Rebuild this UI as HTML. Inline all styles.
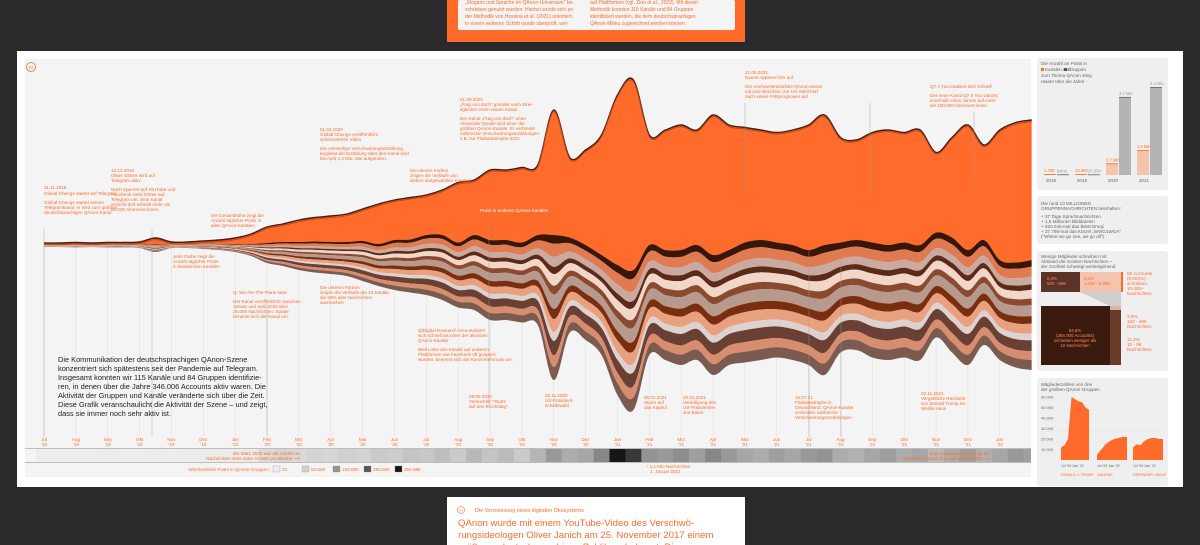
<!DOCTYPE html>
<html><head><meta charset="utf-8">
<style>
html,body{margin:0;padding:0;background:#2a2a2d;}
svg{display:block;font-family:"Liberation Sans",sans-serif;}
.a{fill:#ff6b2b;font-size:4.6px;}
.s{fill:#666;font-size:4.6px;}
.t{fill:#ff6b2b;font-size:5px;}
</style></head>
<body>
<svg id="root" width="1200" height="545" viewBox="0 0 1200 545">
<defs><clipPath id="bandclip"><rect x="25" y="448" width="1006" height="16"/></clipPath></defs>
<rect x="0" y="0" width="1200" height="545" fill="#2a2a2d"/>
<g>
<rect x="447" y="0" width="298" height="42" fill="#ff6b2b"/>
<rect x="458" y="0" width="277" height="30" rx="2" fill="#f4f4f4"/>
<text class="t" x="465" y="4">„Slogans und Sprache im QAnon-Universum" be-</text>
<text class="t" x="465" y="11">schrieben genutzt wurden. Hierbei wurde sich an</text>
<text class="t" x="465" y="18">der Methodik von Hossina et al. (2021) orientiert.</text>
<text class="t" x="465" y="25">In einem weiteren Schritt wurde überprüft, wel-</text>
<text class="t" x="590" y="4">auf Plattformen (vgl. Zinn et al., 2022). Mit dieser</text>
<text class="t" x="590" y="11">Methodik konnten 115 Kanäle und 84 Gruppen</text>
<text class="t" x="590" y="18">identifiziert werden, die dem deutschsprachigen</text>
<text class="t" x="590" y="25">QAnon-Milieu zugerechnet werden können.</text>
</g>
<rect x="17" y="51" width="1166" height="436" fill="#ffffff"/>
<rect x="25" y="59" width="1006" height="418" fill="#f4f4f4"/>
<g id="chart"></g>
<circle cx="31" cy="67" r="4.5" fill="none" stroke="#ff6b2b" stroke-width="0.8"/>
<text x="31" y="68.6" text-anchor="middle" style="font-size:4px;fill:#ff6b2b">02</text>

<g>
<text class="a" x="44" y="189">11.11.2018</text>
<text class="a" x="44" y="195">Global Ghenge startet auf Telegram</text>
<text class="a" x="44" y="204">Global Ghenge startet seinen</text>
<text class="a" x="44" y="209">Telegramkanal, er wird zum größten</text>
<text class="a" x="44" y="214">deutschsprachigen QAnon-Kanal</text>
<text class="a" x="111" y="172">13.12.2019</text>
<text class="a" x="111" y="177">Oliver Sittner wird auf</text>
<text class="a" x="111" y="182">Telegram aktiv</text>
<text class="a" x="111" y="191">Nach Sperren auf YouTube und</text>
<text class="a" x="111" y="196">Facebook zieht Sittner auf</text>
<text class="a" x="111" y="201">Telegram um. Sein Kanal</text>
<text class="a" x="111" y="206">erreicht dort schnell mehr als</text>
<text class="a" x="111" y="211">60.000 Abonnent:innen.</text>
<text class="a" x="211" y="217">Die Gesamthöhe zeigt die</text>
<text class="a" x="211" y="222">Anzahl täglicher Posts in</text>
<text class="a" x="211" y="227">allen QAnon-Kanälen</text>
<text class="a" x="173" y="258">Jede Farbe zeigt die</text>
<text class="a" x="173" y="263">Anzahl täglicher Posts</text>
<text class="a" x="173" y="268">in bestimmten Kanälen</text>
<text class="a" x="233" y="294">Q: We Are The Plane Now</text>
<text class="a" x="233" y="303">Der Kanal veröffentlicht zwischen</text>
<text class="a" x="233" y="308">Januar und April 2020 über</text>
<text class="a" x="233" y="313">25.000 Nachrichten. Später</text>
<text class="a" x="233" y="318">benennt sich der Kanal um.</text>
<text class="a" x="320" y="131">01.04.2020</text>
<text class="a" x="320" y="136">Global Ghenge veröffentlicht</text>
<text class="a" x="320" y="141">sehenswertes Video</text>
<text class="a" x="320" y="150">Die zehnteilige Verschwörungserzählung</text>
<text class="a" x="320" y="155">begleitet die Erzählung über den Kanal wird</text>
<text class="a" x="320" y="160">bis April 3,4 Mio. Mal aufgerufen.</text>
<text class="a" x="410" y="172">Die oberen Farben</text>
<text class="a" x="410" y="177">zeigen die Verläufe von</text>
<text class="a" x="410" y="182">sieben ausgewählten Kanälen</text>
<text class="a" x="460" y="101">01.09.2020</text>
<text class="a" x="460" y="106">„Frag uns doch" gründet nach Strei-</text>
<text class="a" x="460" y="111">tigkeiten einen neuen Kanal</text>
<text class="a" x="460" y="120">Der Kanal „Frag uns doch" unter</text>
<text class="a" x="460" y="125">Alexander Quade wird einer der</text>
<text class="a" x="460" y="130">größten QAnon-Kanäle. Er verbreitet</text>
<text class="a" x="460" y="135">zahlreiche Verschwörungserzählungen</text>
<text class="a" x="460" y="140">z.B. zur Flutkatastrophe 2021</text>
<text x="480" y="212" style="font-size:4.6px;fill:#fff">Posts in anderen QAnon-Kanälen</text>
<text class="a" x="320" y="289">Die unteren Farben</text>
<text class="a" x="320" y="294">zeigen die Verläufe der 15 Kanäle,</text>
<text class="a" x="320" y="299">die 50% aller Nachrichten</text>
<text class="a" x="320" y="304">ausmachen</text>
<text class="a" x="418" y="332">Q/Digital Research Area etabliert</text>
<text class="a" x="418" y="337">sich schnell als einer der aktivsten</text>
<text class="a" x="418" y="342">QAnon-Kanäle</text>
<text class="a" x="418" y="351">Weil Links des Kanals auf anderen</text>
<text class="a" x="418" y="356">Plattformen wie Facebook oft gesperrt</text>
<text class="a" x="418" y="361">wurden, benennt sich der Kanal mehrmals um.</text>
<text class="a" x="745" y="74">21.05.2021</text>
<text class="a" x="745" y="79">Naomi Appleen hört auf</text>
<text class="a" x="745" y="88">Der reichweitenstärkste QAnon-Kanal</text>
<text class="a" x="745" y="93">mit Live-Berichten zur US-Wahl hört</text>
<text class="a" x="745" y="98">nach vielen Fehlprognosen auf</text>
<text class="a" x="930" y="88">Q7 4 You etabliert sich schnell</text>
<text class="a" x="930" y="97">Der neue Kanal Q7 4 You wächst</text>
<text class="a" x="930" y="102">innerhalb eines Jahres auf mehr</text>
<text class="a" x="930" y="107">als 100.000 Abonnent:innen</text>
<text class="a" x="469" y="398">29.08.2020</text>
<text class="a" x="469" y="403">Versuchter "Sturm</text>
<text class="a" x="469" y="408">auf den Reichstag"</text>
<text class="a" x="545" y="397">03.11.2020</text>
<text class="a" x="545" y="402">US-Präsident-</text>
<text class="a" x="545" y="407">schaftswahl</text>
<text class="a" x="644" y="399">06.01.2021</text>
<text class="a" x="644" y="404">Sturm auf</text>
<text class="a" x="644" y="409">das Kapitol</text>
<text class="a" x="683" y="399">20.01.2021</text>
<text class="a" x="683" y="404">Vereidigung des</text>
<text class="a" x="683" y="409">US-Präsidenten</text>
<text class="a" x="683" y="414">Joe Biden</text>
<text class="a" x="795" y="399">15.07.21</text>
<text class="a" x="795" y="404">Flutkatastrophe in</text>
<text class="a" x="795" y="409">Deutschland: QAnon-Kanäle</text>
<text class="a" x="795" y="414">verbreiten zahlreiche</text>
<text class="a" x="795" y="419">Verschwörungserzählungen</text>
<text class="a" x="921" y="395">03.11.2021</text>
<text class="a" x="921" y="400">Vergebliche Rückkehr</text>
<text class="a" x="921" y="405">von Donald Trump ins</text>
<text class="a" x="921" y="410">Weiße Haus</text>
</g>
<g style="font-size:7.4px;fill:#222">
<text x="58" y="362">Die Kommunikation der deutschsprachigen QAnon-Szene</text>
<text x="58" y="371">konzentriert sich spätestens seit der Pandemie auf Telegram.</text>
<text x="58" y="380">Insgesamt konnten wir 115 Kanäle und 84 Gruppen identifizie-</text>
<text x="58" y="389">ren, in denen über die Jahre 346.006 Accounts aktiv waren. Die</text>
<text x="58" y="398">Aktivität der Gruppen und Kanäle veränderte sich über die Zeit.</text>
<text x="58" y="407">Diese Grafik veranschaulicht die Aktivität der Szene – und zeigt,</text>
<text x="58" y="416">dass sie immer noch sehr aktiv ist.</text>
</g>
<g id="xaxis"></g>
<g id="band" clip-path="url(#bandclip)"></g>
<g>
<text class="a" x="300" y="455" text-anchor="end">Bis März 2020 war die Anzahl an</text>
<text class="a" x="300" y="460" text-anchor="end">Nachrichten stets unter 10.000 pro Woche ⟶</text>
<text class="a" x="990" y="455" text-anchor="end">Zum Jahreswechsel steigt die</text>
<text class="a" x="990" y="460" text-anchor="end">Anzahl an Nachrichten auf über 23.000 ⟶</text>
<text class="a" x="646" y="468">↑ 1,1 Mio Nachrichten</text>
<text class="a" x="650" y="473">1. Januar 2021</text>
</g>
<g id="legend"></g>

<g>
<rect x="1037" y="58" width="131" height="132" rx="3" fill="#efefef"/>
<text class="s" x="1041" y="65">Die Anzahl an Posts in</text>
<rect x="1041" y="68" width="3" height="3" fill="#ff6b2b"/><text class="s" x="1045" y="71">Kanälen und</text><rect x="1064" y="68" width="3" height="3" fill="#555"/><text class="s" x="1068" y="71">Gruppen</text>
<text class="s" x="1041" y="77">zum Thema QAnon stieg</text>
<text class="s" x="1041" y="83">rasant über die Jahre</text>
<g id="bars"></g>
<rect x="1037" y="196" width="131" height="48" rx="3" fill="#efefef"/>
<text class="s" x="1041" y="205">Die rund 13 MILLIONEN</text>
<text class="s" x="1041" y="210">GRUPPENNACHRICHTEN beinhalten:</text>
<text class="s" x="1041" y="218">+    37 Tage Sprachnachrichten</text>
<text class="s" x="1041" y="223">+    1,5 Millionen Bilddateien</text>
<text class="s" x="1041" y="228">+    620.040-mal das Biest-Emoji</text>
<text class="s" x="1041" y="233">+    37.795-mal das Kürzel „WWG1WGA"</text>
<text class="s" x="1041" y="238">      ("Where we go one, we go all")</text>
<rect x="1037" y="251" width="131" height="120" rx="3" fill="#efefef"/>
<text class="s" x="1041" y="258">Wenige Mitglieder schreiben mit</text>
<text class="s" x="1041" y="263">Abstand die meisten Nachrichten –</text>
<text class="s" x="1041" y="268">der Großteil schweigt weitestgehend</text>
<rect x="1041" y="272" width="39" height="20" fill="#5a3426"/>
<rect x="1080" y="272" width="41" height="20" fill="#f3c4ae"/>
<rect x="1121" y="272" width="2" height="20" fill="#ff6b2b"/>
<polygon points="1080,292 1121,292 1121,306 1110,306" fill="#cfcfcf"/>
<rect x="1041" y="306" width="69" height="59" fill="#3a1a0e"/>
<rect x="1110" y="306" width="11" height="59" fill="#6b3a28"/>
<rect x="1110" y="306" width="11" height="4" fill="#d9b4a2"/>
<text x="1047" y="280" style="font-size:4.4px;fill:#ff8a5a">0,4%</text>
<text x="1047" y="285" style="font-size:4.4px;fill:#ff8a5a">500 - 999</text>
<text x="1084" y="280" style="font-size:4.4px;fill:#ff6b2b">0,4%</text>
<text x="1084" y="285" style="font-size:4.4px;fill:#ff6b2b">1.000 - 5.999</text>
<text x="1075" y="332" text-anchor="middle" style="font-size:4.4px;fill:#ff8a5a">94,6%</text>
<text x="1075" y="337" text-anchor="middle" style="font-size:4.4px;fill:#ff8a5a">(384.000 Accounts)</text>
<text x="1075" y="342" text-anchor="middle" style="font-size:4.4px;fill:#ff8a5a">schrieben weniger als</text>
<text x="1075" y="347" text-anchor="middle" style="font-size:4.4px;fill:#ff8a5a">10 Nachrichten</text>
<text class="a" x="1127" y="275">59 Accounts</text>
<text class="a" x="1127" y="280">(0,002%)</text>
<text class="a" x="1127" y="285">schrieben</text>
<text class="a" x="1127" y="290">10.000+</text>
<text class="a" x="1127" y="295">Nachrichten</text>
<text class="a" x="1127" y="318">3,5%</text>
<text class="a" x="1127" y="323">100 - 499</text>
<text class="a" x="1127" y="328">Nachrichten</text>
<text class="a" x="1127" y="341">11,3%</text>
<text class="a" x="1127" y="346">10 - 99</text>
<text class="a" x="1127" y="351">Nachrichten</text>
<rect x="1037" y="378" width="131" height="108" rx="3" fill="#efefef"/>
<text class="s" x="1041" y="386">Mitgliederzahlen von drei</text>
<text class="s" x="1041" y="391">der größten QAnon-Gruppen</text>
<g id="mini"></g>
</g>

<g>
<rect x="447" y="497" width="298" height="48" fill="#ffffff"/>
<circle cx="461" cy="510" r="3.5" fill="none" stroke="#ff6b2b" stroke-width="0.6"/>
<text x="461" y="511.3" text-anchor="middle" style="font-size:3px;fill:#ff6b2b">04</text>
<text x="475" y="512" style="font-size:5.5px;fill:#ff6b2b">Die Vermessung eines digitalen Ökosystems</text>
<text x="458" y="526" style="font-size:9.6px;fill:#ff6b2b">QAnon wurde mit einem YouTube-Video des Verschwö-</text>
<text x="458" y="538" style="font-size:9.6px;fill:#ff6b2b">rungsideologen Oliver Janich am 25. November 2017 einem</text>
<text x="458" y="550" style="font-size:9.6px;fill:#ff6b2b">größeren deutschsprachigen Publikum bekannt. Die</text>
</g>
</svg>
<script>
const totals = [4,4,5,4,5,5,6,14,6,6,8,10,14,22,36,42,50,55,58,62,72,82,90,95,100,110,125,130,150,150,155,160,270,175,190,220,300,330,220,230,240,230,260,240,235,230,225,230,240,260,215,210,225,230,225,230,185,215,240,200,230,245,250];
const orange = [2,2,2,2,2,2,3,6,3,3,3,4,6,10,16,18,22,24,26,28,32,40,40,42,40,45,60,55,70,70,75,70,125,80,95,120,170,190,110,120,125,115,140,125,115,110,110,115,125,130,105,100,110,115,110,115,80,100,125,95,130,140,140];
const layerWeights = [6,9,7,5,8,6,10,7,9,6,10,8,9];
const layerColors = ["#3a1608","#e07a50","#c9a9a0","#5c2a18","#f2d7c9","#8a4a30","#b8998e","#7a2e10","#e8a07e","#dcd3d0","#6a4035","#d88e6e","#7b5a50"];
const monthLabels = ["Jul","Aug","Sep","Okt","Nov","Dez","Jan","Feb","Mrz","Apr","Mai","Jun","Jul","Aug","Sep","Okt","Nov","Dez","Jan","Feb","Mrz","Apr","Mai","Jun","Jul","Aug","Sep","Okt","Nov","Dez","Jan"];
const yearLabels = ["'19","'19","'19","'19","'19","'19","'20","'20","'20","'20","'20","'20","'20","'20","'20","'20","'20","'20","'21","'21","'21","'21","'21","'21","'21","'21","'21","'21","'21","'21","'22"];
const bandValues = [2,2,2,2,3,2,2,3,2,3,3,4,5,7,30,40,35,45,40,50,45,60,55,70,65,80,60,90,70,85,60,95,140,110,120,170,356,300,150,140,160,130,170,140,120,110,130,120,140,150,110,100,120,130,110,120,90,110,130,100,120,140,130];
const legendValues = ["23","50.000","150.000","250.000","356.988"];
const legendSteps = [0.02,50,150,250,356.988];
const barYears = ["2018","2019","2020","2021"];
const channelPosts = [0.0018,0.019,0.7,1.5];
const groupPosts = [0.0,0.02,4.7,5.3];
const channelLabels = ["1.793","19.350","0,7 Mio","1,5 Mio"];
const groupLabels = ["keine","20.394","4,7 Mio","5,3 Mio"];
const miniA = [12,14,20,60,58,56,55,50,48];
const miniB = [5,10,15,18,20,21,22,22];
const miniC = [12,15,14,18,20,21,21,20,20];
const miniTicks = [10,20,30,40,50,60];
const miniNames = ["DONALD J. TRUMP","QANONS","DEFENDER / WAAF"];

const NS="http://www.w3.org/2000/svg";
function mk(tag,attrs,parent){const e=document.createElementNS(NS,tag);for(const k in attrs)e.setAttribute(k,attrs[k]);parent.appendChild(e);return e;}
const xS=i=>44+i*15.93;
const CY=245;
function smooth(pts){let d="";for(let i=0;i<pts.length;i++){const p=pts[i];if(i===0){d+="M"+p[0]+","+p[1];continue;}const p0=pts[i-2]||pts[i-1],p1=pts[i-1],p3=pts[i+1]||p;const c1=[p1[0]+(p[0]-p0[0])/6,p1[1]+(p[1]-p0[1])/6],c2=[p[0]-(p3[0]-p1[0])/6,p[1]-(p3[1]-p1[1])/6];d+="C"+c1.join(",")+" "+c2.join(",")+" "+p.join(",");}return d;}
function seg(pts){return smooth(pts).replace(/^M/,"L");}

const chartG=document.getElementById("chart");
for(let m=0;m<monthLabels.length;m++){const x=xS(m*2);
 const l=mk("line",{x1:x,x2:x,y1:240,y2:436,stroke:"#dcdcdc","stroke-width":0.5},chartG);
 
 }
const nPts=totals.length;
const wsum=layerWeights.reduce((a,b)=>a+b,0);
const topPts=[],orangeBottom=[];
for(let i=0;i<nPts;i++){topPts.push([xS(i),CY-totals[i]/2]);orangeBottom.push([xS(i),CY-totals[i]/2+orange[i]]);}
let prevPts=orangeBottom;
const layerPaths=[];
const accY=orangeBottom.map(p=>p[1]);
for(let k=0;k<layerWeights.length;k++){
 const next=[];
 for(let i=0;i<nPts;i++){accY[i]+=(totals[i]-orange[i])*layerWeights[k]/wsum;next.push([xS(i),accY[i]]);}
 layerPaths.push([prevPts,next]);prevPts=next;
}
const oa=mk("path",{d:smooth(topPts)+seg(orangeBottom.slice().reverse())+"Z",fill:"#ff6b2b"},chartG);


const edge=mk("path",{d:smooth(topPts),fill:"none",stroke:"#4a1c0a","stroke-width":1.4},chartG);


const edge2=mk("path",{d:smooth(topPts.map(p=>[p[0],p[1]+1.6])),fill:"none",stroke:"#b84a20","stroke-width":1},chartG);


layerPaths.forEach((L,k)=>{
 const p=mk("path",{d:smooth(L[0])+seg(L[1].slice().reverse())+"Z",fill:layerColors[k]},chartG);
 
 
});
const leaders=[[44,228,437],[152,230,437],[267,300,437],[489,222,405],[745,103,195],[870,103,200],[974,112,185],[809,250,437],[841,250,437]];
leaders.forEach(a=>{const l=mk("line",{x1:a[0],x2:a[0],y1:a[1],y2:a[2],stroke:"#999","stroke-width":0.4},chartG);
 
 });
const xa=document.getElementById("xaxis");
monthLabels.forEach((m,j)=>{const x=xS(j*2);
 const t=mk("text",{x:x,y:441,"text-anchor":"middle",class:"a"},xa);t.textContent=m;
 
 
 const t2=mk("text",{x:x,y:446,"text-anchor":"middle",class:"a"},xa);t2.textContent=yearLabels[j];
 
 });
const bandG=document.getElementById("band");
const gscale=v=>{const t=Math.min(1,v/356);const g=Math.round(238-t*215);return "rgb("+g+","+g+","+g+")";};
bandValues.forEach((v,i)=>{const r=mk("rect",{x:xS(i)-8,y:449,width:16.2,height:13,fill:gscale(v)},bandG);
 
 });
const bl=mk("line",{x1:25,x2:1031,y1:448.5,y2:448.5,stroke:"#888","stroke-width":0.6},bandG);


const bl2=mk("line",{x1:25,x2:1031,y1:462.5,y2:462.5,stroke:"#888","stroke-width":0.6},bandG);


const lg=document.getElementById("legend");
const lt=mk("text",{x:270,y:471,"text-anchor":"end",class:"a"},lg);lt.textContent="Wöchentliche Posts in QAnon-Gruppen:";


legendValues.forEach((v,i)=>{const x=273+i*29+(i>1?(i-1)*2:0);
 const r=mk("rect",{x:x,y:466,width:7,height:6,fill:gscale(legendSteps[i]),stroke:"#888","stroke-width":0.3},lg);
 
 
 const t=mk("text",{x:x+9,y:471,class:"a"},lg);t.textContent=v;
 
 });
const barsG=document.getElementById("bars");
const bx=i=>1044+i*31;
const bh=v=>v/5.3*88;
barYears.forEach((y,i)=>{
 const t=mk("text",{x:bx(i)+7,y:182,"text-anchor":"middle",class:"s"},barsG);t.textContent=y;
 
 
 const hc=Math.max(1,bh(channelPosts[i])),hg=Math.max(0.6,bh(groupPosts[i]));
 const rc=mk("rect",{x:bx(i),y:175-hc,width:12,height:hc,fill:"#f6c3ab"},barsG);
 
 
 mk("rect",{x:bx(i),y:175-hc,width:12,height:0.8,fill:"#ff6b2b"},barsG);
 const rg=mk("rect",{x:bx(i)+13,y:175-hg,width:12,height:hg,fill:"#b4b4b4"},barsG);
 
 
 mk("rect",{x:bx(i)+13,y:175-hg,width:12,height:0.8,fill:"#666"},barsG);
 const lc=mk("text",{x:bx(i),y:173-hc,style:"font-size:4.2px;fill:#ff6b2b"},barsG);lc.textContent=channelLabels[i];
 
 
 const lgp=mk("text",{x:bx(i)+13,y:173-hg,style:"font-size:4.2px;fill:#999"},barsG);lgp.textContent=groupLabels[i];
 
 
});
const miniG=document.getElementById("mini");
const my=v=>460-v*1.05;
miniTicks.forEach(v=>{const t=mk("text",{x:1041,y:my(v)+1.5,class:"s",style:"font-size:4px"},miniG);t.textContent=(v*1000).toLocaleString("de-DE");
 
 
 mk("line",{x1:1041,x2:1163,y1:my(v)+3,y2:my(v)+3,stroke:"#e2e2e2","stroke-width":0.4},miniG);});
[[miniA,1061,28],[miniB,1097,30],[miniC,1133,30]].forEach((d,k)=>{
 const arr=d[0],x0=d[1],w=d[2];
 const pts=arr.map((v,i)=>[x0+i*w/(arr.length-1),my(v)]);
 const p=mk("path",{d:"M"+x0+",460L"+pts.map(q=>q.join(",")).join("L")+"L"+(x0+w)+",460Z",fill:"#ff6b2b"},miniG);
 
 
 const t=mk("text",{x:x0,y:476,style:"font-size:3.6px;fill:#ff6b2b"},miniG);t.textContent=miniNames[k];
 
 
 const ta=mk("text",{x:x0,y:467,class:"s",style:"font-size:3.6px"},miniG);ta.textContent="Jul '20     Jan '22";
 
 
});
</script>
</body></html>
